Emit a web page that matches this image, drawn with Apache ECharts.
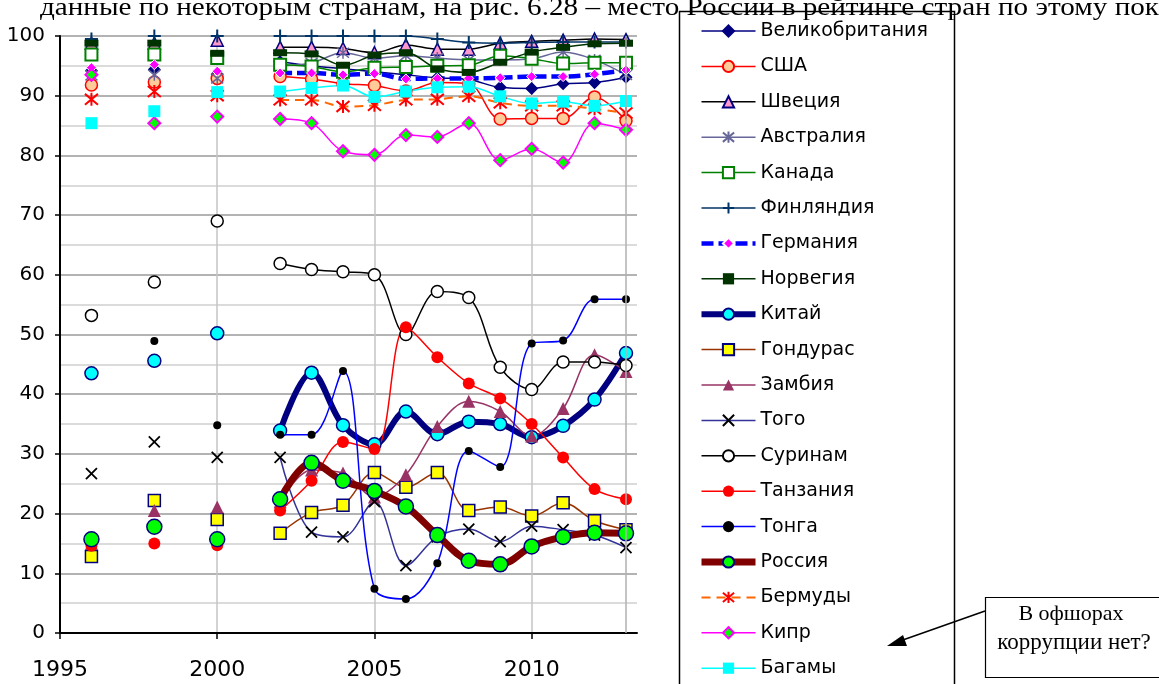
<!DOCTYPE html>
<html>
<head>
<meta charset="utf-8">
<script src="https://cdn.jsdelivr.net/npm/echarts@6/dist/echarts.min.js"></script>
<style>
  html, body { margin: 0; padding: 0; background: #fff; }
  #chart { width: 1159px; height: 684px; }
</style>
</head>
<body>
<div id="chart"></div>
<script>
// Control of corruption, percentile rank, by country and year
const years = [1996, 1998, 2000, 2002, 2003, 2004, 2005, 2006, 2007, 2008, 2009, 2010, 2011, 2012, 2013];

const uk        = [94.2, 94.4, 93.6, 95.7, 95.0, 94.5, 94.0, 93.5, 93.0, 92.7, 91.4, 91.2, 92.0, 92.2, 93.1];
const usa       = [91.8, 92.3, 92.9, 93.2, 92.8, 92.0, 91.7, 90.8, 92.2, 92.0, 86.1, 86.2, 86.2, 89.8, 85.8];
const sweden    = [98.8, 98.8, 99.3, 98.1, 98.1, 97.9, 97.2, 98.5, 97.8, 97.8, 98.8, 99.1, 99.3, 99.5, 99.4];
const australia = [93.4, 93.5, 92.9, 95.0, 95.5, 97.2, 96.3, 96.7, 96.3, 96.0, 96.0, 96.2, 97.3, 96.0, 93.5];
const canada    = [96.9, 96.9, 96.3, 95.2, 94.9, 94.0, 94.7, 94.8, 95.0, 95.1, 96.7, 96.2, 95.4, 95.5, 95.5];
const finland   = [99.5, 100, 100, 100, 100, 100, 100, 100, 99.5, 98.9, 98.8, 98.9, 99.0, 99.0, 99.0];
const germany   = [94.7, 95.2, 94.1, 93.8, 93.8, 93.5, 93.7, 92.8, 92.9, 92.9, 93.0, 93.2, 93.2, 93.6, 94.3];
const norway    = [98.8, 98.8, 97.1, 97.2, 97.0, 95.1, 96.8, 97.2, 94.5, 93.9, 95.6, 97.3, 98.1, 98.7, 98.8];
const china     = [43.5, 45.6, 50.2, 33.9, 43.6, 34.8, 31.6, 37.1, 33.3, 35.4, 35.0, 32.8, 34.7, 39.1, 46.9];
const honduras  = [12.8, 22.2, 19.0, 16.7, 20.2, 21.4, 26.9, 24.4, 26.9, 20.5, 21.1, 19.6, 21.8, 18.8, 17.3];
const zambia    = [15.0, 20.5, 21.1, 22.0, 27.3, 26.8, 22.8, 26.5, 34.6, 38.8, 37.1, 33.0, 37.6, 46.6, 43.8];
const togo      = [26.7, 32.0, 29.4, 29.4, 16.9, 16.1, 22.0, 11.3, 16.1, 17.4, 15.3, 17.9, 17.3, 16.4, 14.3];
const suriname  = [53.2, 58.8, 69.0, 61.9, 60.9, 60.5, 60.0, 50.0, 57.2, 56.2, 44.5, 40.8, 45.4, 45.4, 44.8];
const tanzania  = [14.6, 15.0, 14.7, 20.5, 25.5, 32.0, 30.8, 51.2, 46.2, 41.8, 39.3, 35.0, 29.4, 24.1, 22.4];
const tonga     = [null, 48.9, 34.8, 33.2, 33.2, 43.9, 7.4, 5.7, 11.7, 30.5, 27.8, 48.5, 49.0, 55.9, 55.9];
const russia    = [15.7, 17.8, 15.7, 22.4, 28.5, 25.5, 23.8, 21.2, 16.4, 12.1, 11.5, 14.5, 16.1, 16.8, 16.7];
const bermuda   = [89.4, 90.7, 90.0, 89.3, 89.3, 88.2, 88.4, 89.3, 89.4, 89.9, 88.8, 88.3, 88.3, 87.8, 87.1];
const cyprus    = [93.5, 85.4, 86.5, 86.1, 85.4, 80.7, 80.1, 83.4, 83.1, 85.4, 79.2, 81.1, 78.8, 85.4, 84.3];
const bahamas   = [85.4, 87.4, 90.6, 90.7, 91.3, 91.7, 89.8, 90.7, 91.4, 91.5, 89.9, 88.7, 89.0, 88.3, 89.1];

const xTicks = [1995, 2000, 2005, 2010];
const headerText = 'данные по некоторым странам, на рис. 6.28 – место России в рейтинге стран по этому пок';
const noteLines = ['В офшорах', 'коррупции нет?'];

// marker shapes drawn as strokes
const STAR = 'path://M0,1L10,11M10,1L0,11M5,0L5,12';
const PLUS = 'path://M5,0L5,10M0,5L10,5';
const CROSS = 'path://M0,0L10,10M10,0L0,10';

// turn a value list into [year, value] pairs, breaking the line across missing years
function toPoints(values) {
  const out = [];
  years.forEach((y, i) => {
    out.push([y, values[i]]);
    const next = years[i + 1];
    if (next !== undefined && next - y > 1) out.push([y + 1, null]);
  });
  return out;
}

const FONT = 'DejaVu Sans';

function line(name, values, o) {
  return {
    name,
    type: 'line',
    data: toPoints(values),
    smooth: 0.35,
    connectNulls: false,
    showSymbol: true,
    symbol: o.symbol,
    symbolSize: o.size,
    symbolKeepAspect: false,
    lineStyle: { color: o.line, width: o.width || 1.5, type: o.dash || 'solid' },
    itemStyle: { color: o.fill, borderColor: o.border, borderWidth: o.bw === undefined ? 1.5 : o.bw },
    emphasis: { disabled: true },
    z: 2
  };
}

const series = [
  line('Великобритания', uk,        { symbol: 'diamond',  size: 11, line: '#000080', fill: '#000080', border: '#000080' }),
  line('США',            usa,       { symbol: 'circle',   size: 12, line: '#FF0000', fill: '#FFCC99', border: '#FF0000' }),
  line('Швеция',         sweden,    { symbol: 'triangle', size: 12, line: '#000000', fill: '#FF99CC', border: '#000080' }),
  line('Австралия',      australia, { symbol: STAR,       size: 12, line: '#666699', fill: '#666699', border: '#666699' }),
  line('Канада',         canada,    { symbol: 'rect',     size: 12, line: '#008000', fill: '#FFFFFF', border: '#008000', bw: 2 }),
  line('Финляндия',      finland,   { symbol: PLUS,       size: 13, line: '#003366', fill: '#003366', border: '#003366', bw: 2 }),
  line('Германия',       germany,   { symbol: 'diamond',  size: 10, line: '#0000FF', fill: '#FF00FF', border: '#FFFFFF', bw: 1, width: 4.5, dash: [12, 5] }),
  line('Норвегия',       norway,    { symbol: 'rect',     size: [14, 7], line: '#003300', fill: '#003300', border: '#003300', bw: 0 }),
  line('Китай',          china,     { symbol: 'circle',   size: 13, line: '#000080', fill: '#00FFFF', border: '#000080', width: 6 }),
  line('Гондурас',       honduras,  { symbol: 'rect',     size: 12, line: '#993300', fill: '#FFFF00', border: '#000080' }),
  line('Замбия',         zambia,    { symbol: 'triangle', size: 13, line: '#993366', fill: '#993366', border: '#993366', bw: 0 }),
  line('Того',           togo,      { symbol: CROSS,      size: 11, line: '#333399', fill: '#000000', border: '#000000', bw: 1.8 }),
  line('Суринам',        suriname,  { symbol: 'circle',   size: 12, line: '#000000', fill: '#FFFFFF', border: '#000000' }),
  line('Танзания',       tanzania,  { symbol: 'circle',   size: 12, line: '#FF0000', fill: '#FF0000', border: '#FF0000', bw: 0 }),
  line('Тонга',          tonga,     { symbol: 'circle',   size: 8,  line: '#0000FF', fill: '#000000', border: '#000000', bw: 0 }),
  line('Россия',         russia,    { symbol: 'circle',   size: 15, line: '#800000', fill: '#00FF00', border: '#000080', width: 7 }),
  line('Бермуды',        bermuda,   { symbol: STAR,       size: 13, line: '#FF6600', fill: '#FF0000', border: '#FF0000', bw: 2, width: 2, dash: [9, 6] }),
  line('Кипр',           cyprus,    { symbol: 'diamond',  size: 12, line: '#FF00FF', fill: '#00FF00', border: '#FF00FF', bw: 2 }),
  line('Багамы',         bahamas,   { symbol: 'rect',     size: 12, line: '#00FFFF', fill: '#00FFFF', border: '#00FFFF', bw: 0 })
];

// thin reference line at the final year
series[0].markLine = {
  silent: true,
  symbol: 'none',
  label: { show: false },
  lineStyle: { color: '#b0b0b0', type: 'solid', width: 1.5 },
  data: [{ xAxis: years[years.length - 1] }]
};

const chart = echarts.init(document.getElementById('chart'), null, { renderer: 'canvas' });
chart.setOption({
  animation: false,
  backgroundColor: '#ffffff',
  grid: { left: 60, right: 522, top: 36, bottom: 51, containLabel: false },
  xAxis: {
    type: 'value',
    min: 1995,
    max: 2013.35,
    axisLine: { onZero: false, lineStyle: { color: '#000', width: 2 } },
    axisTick: { customValues: xTicks, length: 6, lineStyle: { color: '#000', width: 1.5 } },
    axisLabel: { customValues: xTicks, fontFamily: FONT, fontSize: 22, color: '#000', margin: 26,
                 formatter: v => String(v) },
    splitLine: { show: true, lineStyle: { color: '#c4c4c4', width: 1.5 } }
  },
  yAxis: {
    type: 'value',
    min: 0,
    max: 100,
    interval: 10,
    axisLine: { show: true, onZero: false, lineStyle: { color: '#000', width: 2 } },
    axisTick: { show: true, length: 5, lineStyle: { color: '#000', width: 1.5 } },
    axisLabel: { fontFamily: FONT, fontSize: 20, color: '#000', margin: 15 },
    splitLine: { show: true, lineStyle: { color: '#9a9a9a', width: 1.5 } },
    minorTick: { show: false, splitNumber: 2 },
    minorSplitLine: { show: true, lineStyle: { color: '#cfcfcf', width: 1.5 } }
  },
  legend: {
    orient: 'vertical',
    left: 698,
    top: 21,
    height: 680,
    padding: 0,
    itemWidth: 54,
    itemHeight: 14,
    itemGap: 15.4,
    selectedMode: false,
    lineStyle: { width: 'inherit', type: 'inherit' },
    textStyle: { fontFamily: FONT, fontSize: 19, color: '#000', lineHeight: 20 },
    data: series.map(s => s.name)
  },
  graphic: [
    { type: 'rect', shape: { x: 679.5, y: 11.5, width: 275, height: 700 },
      style: { fill: 'none', stroke: '#000', lineWidth: 1.5 }, z: 1 },
    { type: 'text', x: 40, y: -4, scaleX: 1.166, scaleY: 1,
      style: { text: headerText, fontFamily: 'Liberation Serif', fontSize: 25, fill: '#000', verticalAlign: 'top' }, z: 5 },
    { type: 'rect', shape: { x: 985.5, y: 597.5, width: 200, height: 80 },
      style: { fill: '#fff', stroke: '#000', lineWidth: 1.2 }, z: 5 },
    { type: 'text', x: 1071, y: 614,
      style: { text: noteLines[0], fontFamily: 'Liberation Serif', fontSize: 22, fill: '#000', align: 'center', verticalAlign: 'middle' }, z: 6 },
    { type: 'text', x: 1074, y: 643,
      style: { text: noteLines[1], fontFamily: 'Liberation Serif', fontSize: 23, fill: '#000', align: 'center', verticalAlign: 'middle' }, z: 6 },
    { type: 'line', shape: { x1: 985, y1: 611, x2: 900, y2: 641 },
      style: { stroke: '#000', lineWidth: 1.5 }, z: 6 },
    { type: 'polygon', shape: { points: [[887, 646], [903, 635], [907, 646]] },
      style: { fill: '#000' }, z: 6 }
  ],
  series
});
</script>
</body>
</html>
